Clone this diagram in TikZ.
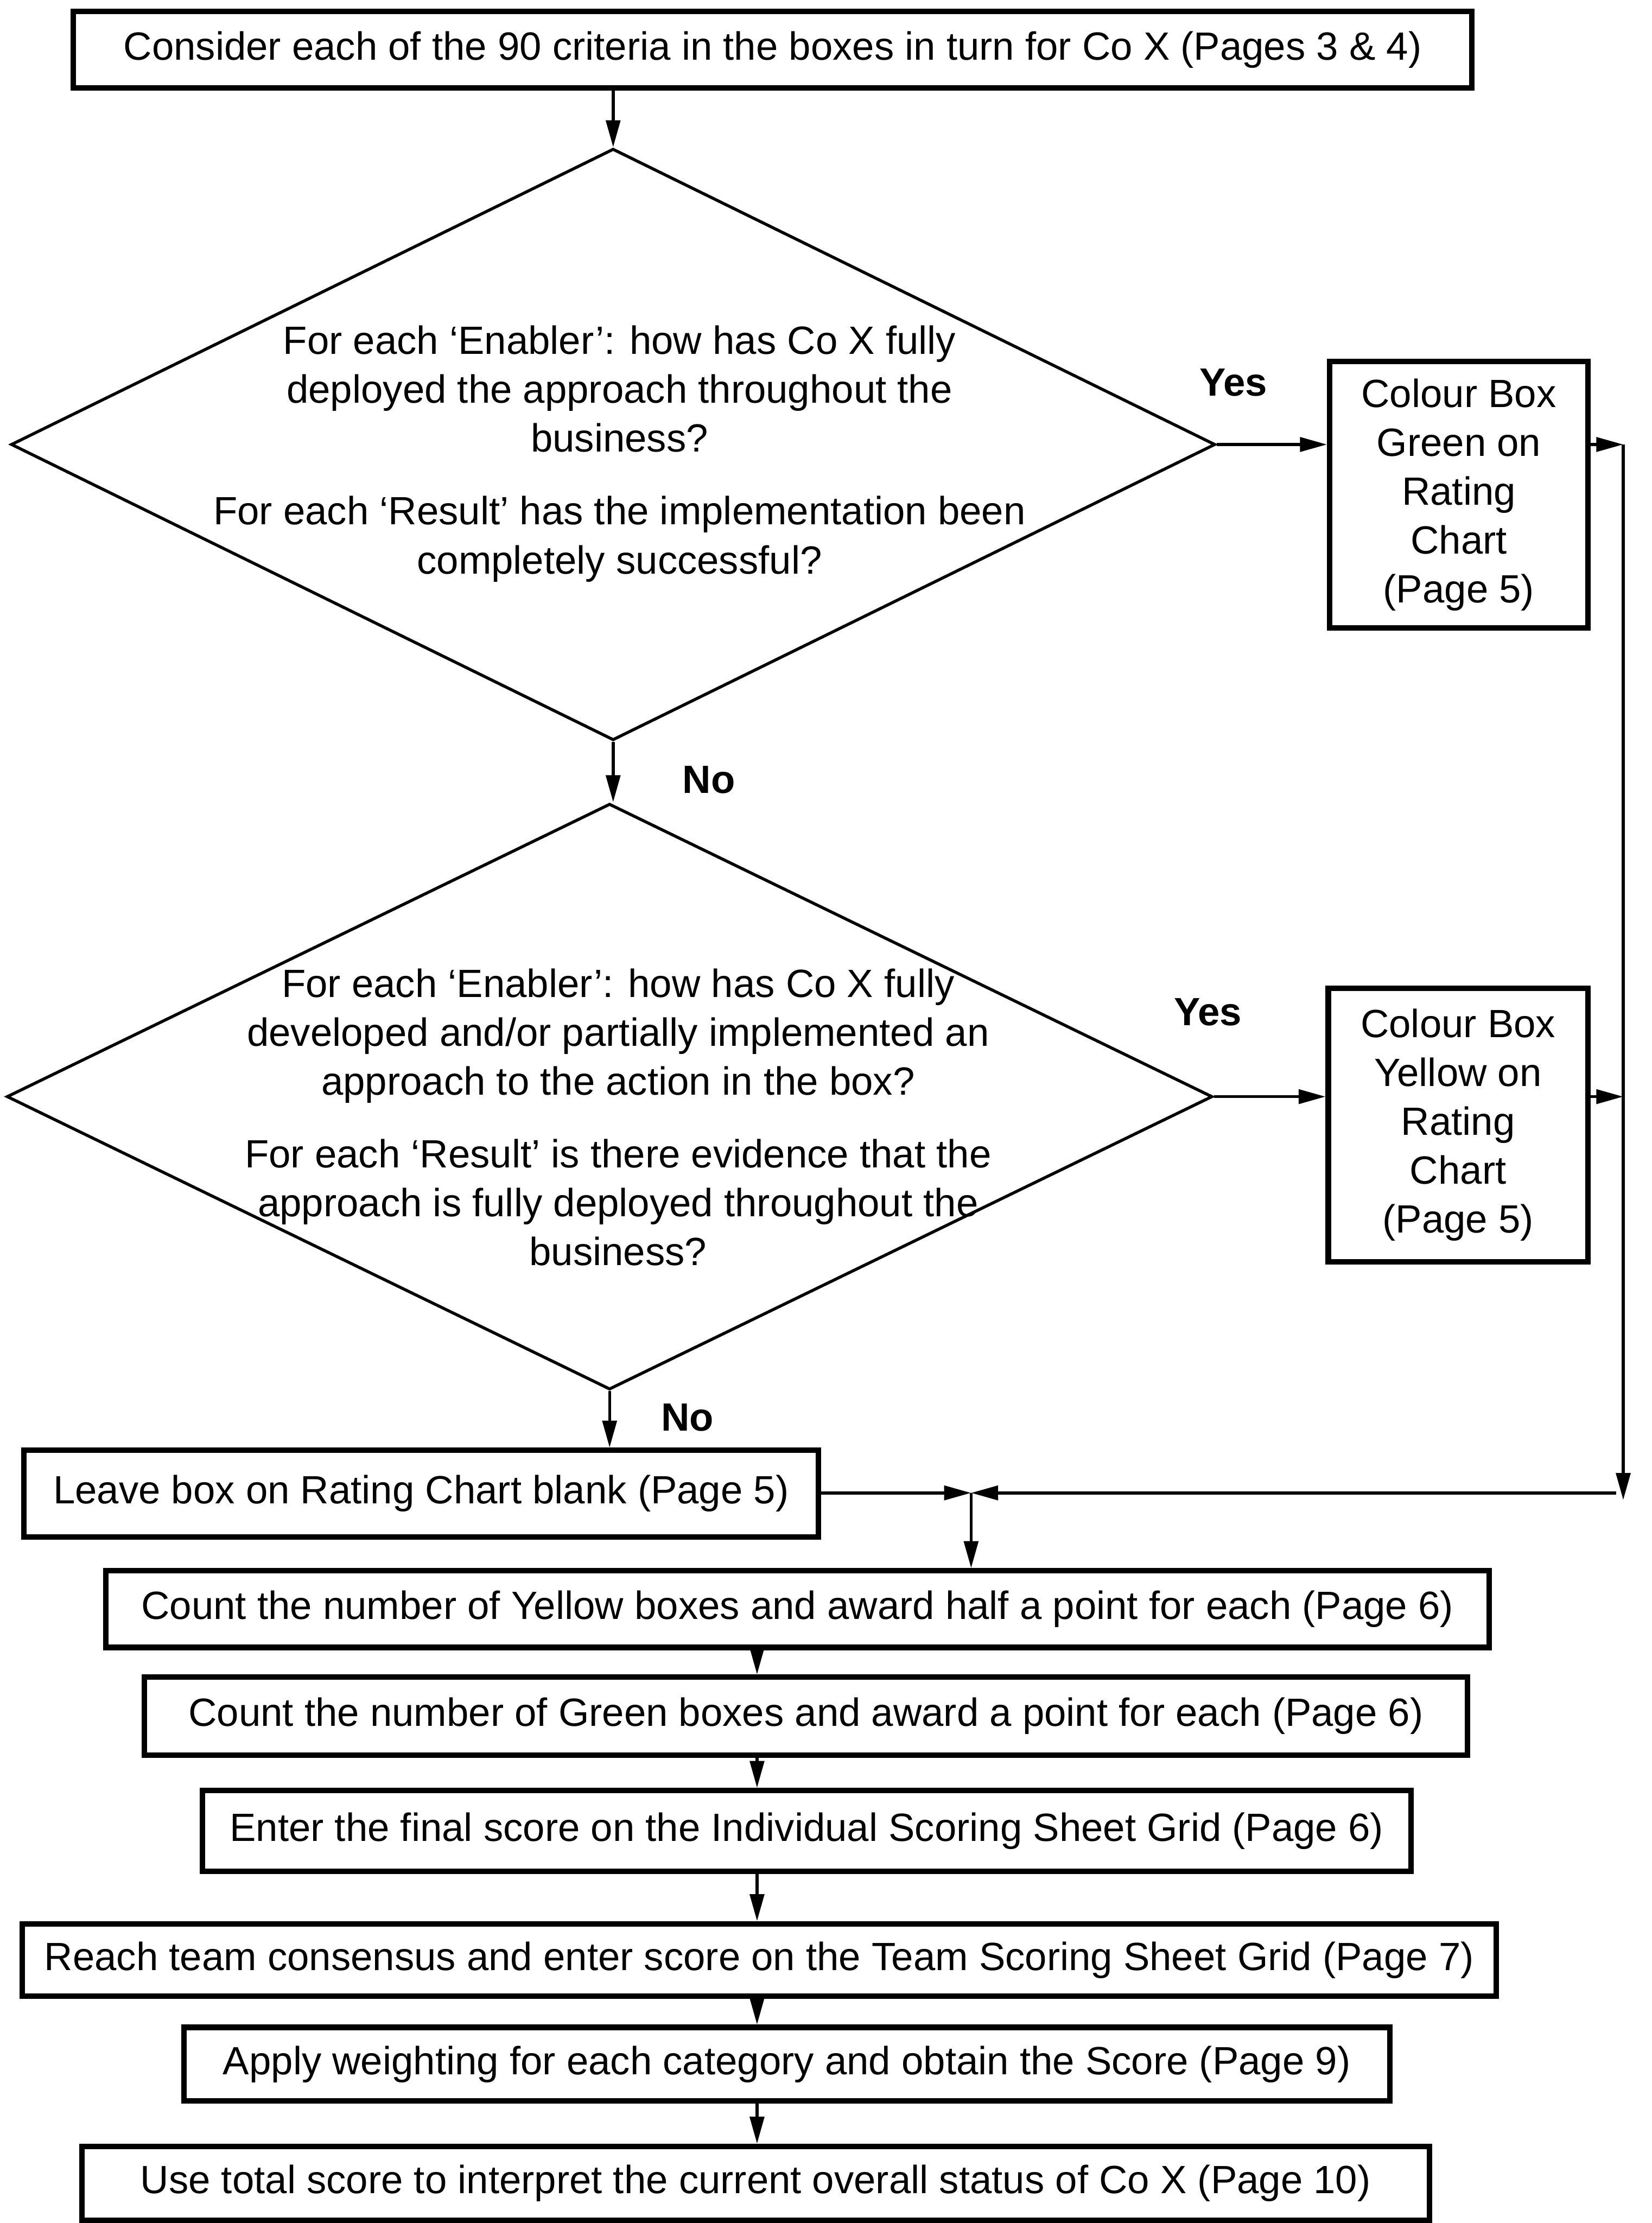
\documentclass[tikz,border=0pt]{standalone}
\usepackage{fontspec}
\setmainfont{Liberation Sans}
\usetikzlibrary{arrows.meta,shapes.geometric}

\tikzset{
  stepbox/.style={draw, line width=1.1pt, inner sep=0pt, align=center},
  query/.style={draw, diamond, line width=0.6pt, inner sep=0pt},
  querytext/.style={align=center},
  arr/.style={line width=0.6pt, -{Triangle[length=1.9mm,width=1mm]}},
  ans/.style={font=\fontsize{7.9}{9.8}\selectfont\bfseries}
}

\begin{document}
\begin{tikzpicture}[x=0.01cm, y=-0.01cm, font=\fontsize{7.9}{9.8}\selectfont]
\useasboundingbox (0,0) rectangle (1165,1568);

\node[stepbox, minimum width=9.86cm, minimum height=0.54cm] (start) at (545,35)
  {Consider each of the 90 criteria in the boxes in turn for Co X (Pages 3 \& 4)};

\node[query, minimum width=8.49cm, minimum height=4.17cm] (q1) at (432.5,313.5) {};
\node[querytext] (q1txt) at (437,320)
  {For each ‘Enabler’: how has Co X fully\\deployed the approach throughout the\\business?\\[1.7mm]
   For each ‘Result’ has the implementation been\\completely successful?};

\node[query, minimum width=8.50cm, minimum height=4.13cm] (q2) at (430,773.5) {};
\node[querytext] (q2txt) at (436,788)
  {For each ‘Enabler’: how has Co X fully\\developed and/or partially implemented an\\approach to the action in the box?\\[1.7mm]
   For each ‘Result’ is there evidence that the\\approach is fully deployed throughout the\\business?};

\node[stepbox, minimum width=1.82cm, minimum height=1.88cm] (green) at (1029,349)
  {Colour Box\\Green on\\Rating\\Chart\\(Page 5)};
\node[stepbox, minimum width=1.83cm, minimum height=1.93cm] (yellow) at (1028.5,793.5)
  {Colour Box\\Yellow on\\Rating\\Chart\\(Page 5)};

\node[ans] (yes1) at (870,270) {Yes};
\node[ans] (yes2) at (852,714) {Yes};
\node[ans] (no1) at (500,550) {No};
\node[ans] (no2) at (485,1000) {No};

\node[stepbox, minimum width=5.60cm, minimum height=0.61cm] (leave) at (297,1053.5)
  {Leave box on Rating Chart blank (Page 5)};
\node[stepbox, minimum width=9.75cm, minimum height=0.54cm] (cy) at (562.5,1135)
  {Count the number of Yellow boxes and award half a point for each (Page 6)};
\node[stepbox, minimum width=9.33cm, minimum height=0.55cm] (cg) at (568.5,1210.5)
  {Count the number of Green boxes and award a point for each (Page 6)};
\node[stepbox, minimum width=8.52cm, minimum height=0.57cm] (ent) at (569,1291.5)
  {Enter the final score on the Individual Scoring Sheet Grid (Page 6)};
\node[stepbox, minimum width=10.39cm, minimum height=0.51cm] (rch) at (535.5,1382.5)
  {Reach team consensus and enter score on the Team Scoring Sheet Grid (Page 7)};
\node[stepbox, minimum width=8.50cm, minimum height=0.52cm] (apl) at (555,1456)
  {Apply weighting for each category and obtain the Score (Page 9)};
\node[stepbox, minimum width=9.50cm, minimum height=0.52cm] (use) at (533,1540)
  {Use total score to interpret the current overall status of Co X (Page 10)};

\coordinate (rail1) at (1145,313.5);
\coordinate (rail2) at (1145,1058);
\coordinate (rail3) at (1140,1053);
\coordinate (join) at (685,1053);
\coordinate (spine) at (534,0);

\draw[arr] (q1.north |- start.south) -- (q1.north);
\draw[arr] (q1.east) -- (q1.east -| green.west);
\draw[arr] (q1.south) -- (q1.south |- q2.north);
\draw[arr] (q2.east) -- (q2.east -| yellow.west);
\draw[arr] (q2.south) -- (q2.south |- leave.north);

\draw[arr] (green.east |- rail1) -- (rail1);
\draw[arr] (yellow.east |- q2.east) -- (rail1 |- q2.east);
\draw[arr] (rail1) -- (rail2);
\draw[arr] (rail3) -- (join);
\draw[arr] (leave.east |- join) -- (join);
\draw[arr] (join) -- (join |- cy.north);

\foreach \a/\b in {cy/cg, cg/ent, ent/rch, rch/apl, apl/use}
  \draw[arr] (\a.south -| spine) -- (\b.north -| spine);
\end{tikzpicture}
\end{document}
